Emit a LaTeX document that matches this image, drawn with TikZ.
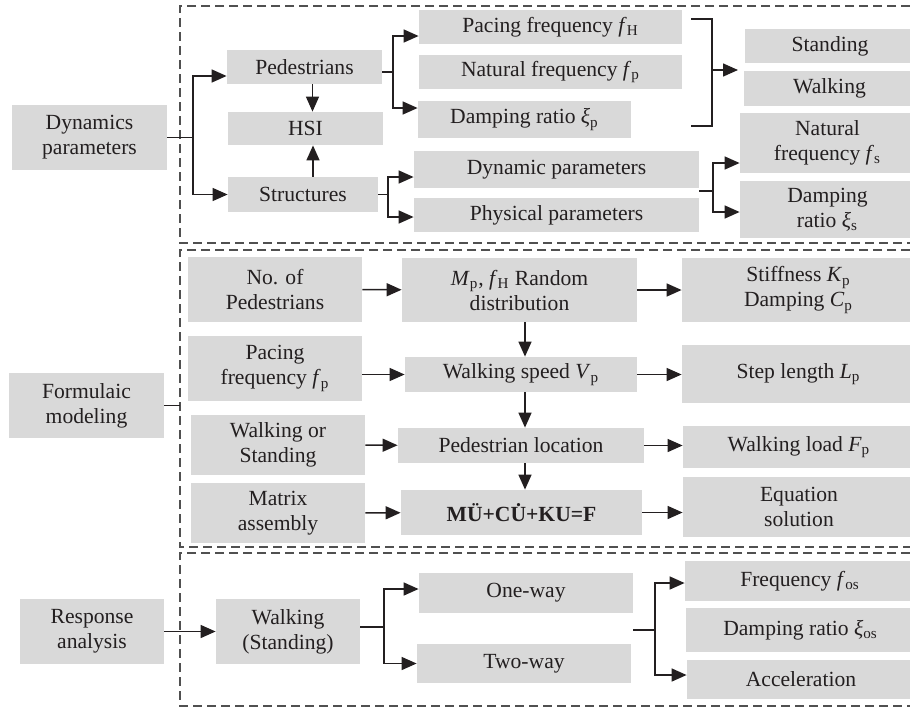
\documentclass[tikz,border=0pt]{standalone}
\usepackage{fontspec}
\setmainfont{Liberation Serif}
\usepackage{tikz}
\usetikzlibrary{arrows.meta,positioning}
\definecolor{HsiInk}{RGB}{35,31,32}
\definecolor{HsiFill}{RGB}{217,217,217}
\definecolor{HsiDash}{RGB}{80,80,80}
\tikzset{
  hsi/box/.style={
    fill=HsiFill,
    draw=none,
    align=center,
    text=HsiInk,
    inner sep=0pt,
    font=\fontsize{10.8}{12.5}\selectfont
  },
  hsi/frame/.style={
    draw=HsiDash,
    line width=0.6pt,
    dash pattern=on 4.5pt off 2.5pt
  },
  hsi/arrow/.style={-{Triangle[length=7.5pt,width=6.5pt]}, line width=0.75pt, draw=HsiInk},
  hsi/line/.style={line width=0.75pt, draw=HsiInk}
}
\newcommand{\fsub}[2]{\textit{#1}\textsubscript{#2}}

\begin{document}
\begin{tikzpicture}[x=0.5pt,y=-0.5pt]
  \useasboundingbox (0,0) rectangle (910,707);
  \clip (0,0) rectangle (910,707);

  % dashed frames, open on the right
  \coordinate (fleft) at (180,0);
  \draw[hsi/frame] (910,6) -| (180,243) -- (910,243);
  \draw[hsi/frame] (910,250) -| (180,547) -- (910,547);
  \draw[hsi/frame] (910,553) -| (180,706) -- (910,706);

  % dynamics parameters
  \node[hsi/box,minimum width=77.5pt,minimum height=32.5pt] (dyn) at (89.5,137.5) {Dynamics\\parameters};
  \node[hsi/box,minimum width=77.5pt,minimum height=17pt] (ped) at (304.5,67) {Pedestrians};
  \node[hsi/box,minimum width=77.5pt,minimum height=16.5pt] (hsi) at (305.5,128.5) {HSI};
  \node[hsi/box,minimum width=75pt,minimum height=17.5pt] (struc) at (303,194.5) {Structures};
  \node[hsi/box,minimum width=131.5pt,minimum height=17pt] (pace) at (550.5,27) {Pacing frequency \fsub{f}{H}};
  \node[hsi/box,minimum width=131.5pt,minimum height=17pt] (natp) at (550.5,72) {Natural frequency \fsub{f}{p}};
  \node[hsi/box,minimum width=106.5pt,minimum height=18.5pt] (dampp) at (524.5,119.5) {Damping ratio \fsub{ξ}{p}};
  \node[hsi/box,minimum width=142.5pt,minimum height=18.5pt] (dynpar) at (556.5,169.5) {Dynamic parameters};
  \node[hsi/box,minimum width=142.5pt,minimum height=17pt] (phypar) at (556.5,215) {Physical parameters};
  \node[hsi/box,minimum width=85pt,minimum height=17pt] (stand) at (830,46) {Standing};
  \node[hsi/box,minimum width=85.5pt,minimum height=17.5pt] (walk) at (829.5,88.5) {Walking};
  \node[hsi/box,minimum width=87.5pt,minimum height=30pt] (nats) at (827.5,143) {Natural\\frequency \fsub{f}{s}};
  \node[hsi/box,minimum width=87.5pt,minimum height=28.5pt] (damps) at (827.5,209.5) {Damping\\ratio \fsub{ξ}{s}};

  \coordinate (jdyn) at (193,137.5);
  \draw[hsi/line] (dyn) -- (jdyn);
  \draw[hsi/arrow] (jdyn) |- ([yshift=-4.5pt]ped.west);
  \draw[hsi/arrow] (jdyn) |- (struc);
  \draw[hsi/arrow] ([xshift=4pt]ped.south) -- ([xshift=4pt]ped.south |- hsi.north);
  \draw[hsi/arrow] ([xshift=5pt]struc.north) -- ([xshift=5pt]struc.north |- hsi.south);
  \coordinate (jped) at (393,72);
  \draw[hsi/line] (ped.east |- jped) -- (jped);
  \draw[hsi/arrow] (jped) |- ([yshift=-4.5pt]pace.west);
  \draw[hsi/arrow] (jped) |- ([yshift=5.75pt]dampp.west);
  \coordinate (brt) at (691,19);
  \coordinate (brb) at (691,126);
  \coordinate (brm) at (712,70);
  \draw[hsi/line] (brt) -| (brm) |- (brb);
  \draw[hsi/arrow] (brm) -- ++(26,0);
  \coordinate (jstr) at (388,194.5);
  \draw[hsi/line] (struc) -- (jstr);
  \draw[hsi/arrow] (jstr) |- ([yshift=-3.75pt]dynpar.west);
  \draw[hsi/arrow] (jstr) |- ([yshift=-1pt]phypar.west);
  \coordinate (jpar0) at (699,191);
  \coordinate (jpar) at (713,191);
  \draw[hsi/line] (jpar0) -- (jpar);
  \draw[hsi/arrow] (jpar) |- ([yshift=-10pt]nats.west);
  \draw[hsi/arrow] (jpar) |- ([yshift=-1.25pt]damps.west);

  % formulaic modeling
  \node[hsi/box,minimum width=77.5pt,minimum height=32.5pt] (form) at (86.5,405.5) {Formulaic\\modeling};
  \node[hsi/box,minimum width=87pt,minimum height=32.5pt] (nop) at (275,289.5) {No. of\\Pedestrians};
  \node[hsi/box,minimum width=87pt,minimum height=32.5pt] (pacp) at (275,368.5) {Pacing\\frequency \fsub{f}{p}};
  \node[hsi/box,minimum width=87pt,minimum height=30pt] (wos) at (278,445) {Walking or\\Standing};
  \node[hsi/box,minimum width=87pt,minimum height=30pt] (mat) at (278,513) {Matrix\\assembly};
  \node[hsi/box,minimum width=117.5pt,minimum height=32pt] (mrand) at (519.5,290) {\fsub{M}{p}, \fsub{f}{H} Random\\distribution};
  \node[hsi/box,minimum width=116pt,minimum height=17.5pt] (wspeed) at (521,374.5) {Walking speed \fsub{V}{p}};
  \node[hsi/box,minimum width=123pt,minimum height=17.5pt] (ploc) at (521,445.5) {Pedestrian location};
  \node[hsi/box,minimum width=120.5pt,minimum height=22.5pt] (eqn) at (521.5,512.5) {\textbf{M\"U+C\.U+KU=F}};
  \node[hsi/box,minimum width=116.5pt,minimum height=32pt] (stiff) at (798.5,290) {Stiffness \fsub{K}{p}\\Damping \fsub{C}{p}};
  \node[hsi/box,minimum width=116.5pt,minimum height=29pt] (steplen) at (798.5,374) {Step length \fsub{L}{p}};
  \node[hsi/box,minimum width=116pt,minimum height=21pt] (wload) at (799,447) {Walking load \fsub{F}{p}};
  \node[hsi/box,minimum width=116pt,minimum height=30pt] (eqsol) at (799,507) {Equation\\solution};

  \draw[hsi/line] (form) -- (form -| fleft);
  \draw[hsi/arrow] (nop) -- (mrand);
  \draw[hsi/arrow] (pacp.east |- wspeed) -- (wspeed);
  \draw[hsi/arrow] (wos) -- (ploc);
  \draw[hsi/arrow] (mat) -- (eqn);
  \draw[hsi/arrow] (mrand) -- (stiff);
  \draw[hsi/arrow] (wspeed) -- (wspeed -| steplen.west);
  \draw[hsi/arrow] (ploc) -- (ploc -| wload.west);
  \draw[hsi/arrow] (eqn) -- (eqn -| eqsol.west);
  \coordinate (vcol) at (525,0);
  \draw[hsi/arrow] (mrand.south -| vcol) -- (wspeed.north -| vcol);
  \draw[hsi/arrow] (wspeed.south -| vcol) -- (ploc.north -| vcol);
  \draw[hsi/arrow] (ploc.south -| vcol) -- (eqn.north -| vcol);

  % response analysis
  \node[hsi/box,minimum width=72pt,minimum height=32.5pt] (resp) at (92,631.5) {Response\\analysis};
  \node[hsi/box,minimum width=72pt,minimum height=32.5pt] (walkst) at (288,631.5) {Walking\\(Standing)};
  \node[hsi/box,minimum width=107pt,minimum height=20pt] (oneway) at (526,593) {One-way};
  \node[hsi/box,minimum width=107pt,minimum height=19.5pt] (twoway) at (524,663.5) {Two-way};
  \node[hsi/box,minimum width=115pt,minimum height=20pt] (freq) at (800,581) {Frequency \fsub{f}{os}};
  \node[hsi/box,minimum width=114.5pt,minimum height=22pt] (dampos) at (800.5,630) {Damping ratio \fsub{ξ}{os}};
  \node[hsi/box,minimum width=114pt,minimum height=19.5pt] (accel) at (801,679.5) {Acceleration};

  \draw[hsi/arrow] (resp) -- (walkst);
  \coordinate (jws) at (384,627);
  \draw[hsi/line] (walkst.east |- jws) -- (jws);
  \draw[hsi/arrow] (jws) |- ([yshift=2pt]oneway.west);
  \draw[hsi/arrow] (jws) |- (twoway);
  \coordinate (jway0) at (633,630);
  \coordinate (jway) at (655,630);
  \draw[hsi/line] (jway0) -- (jway);
  \draw[hsi/arrow] (jway) |- ([yshift=-1pt]freq.west);
  \draw[hsi/arrow] (jway) |- ([yshift=2.25pt]accel.west);
\end{tikzpicture}
\end{document}
